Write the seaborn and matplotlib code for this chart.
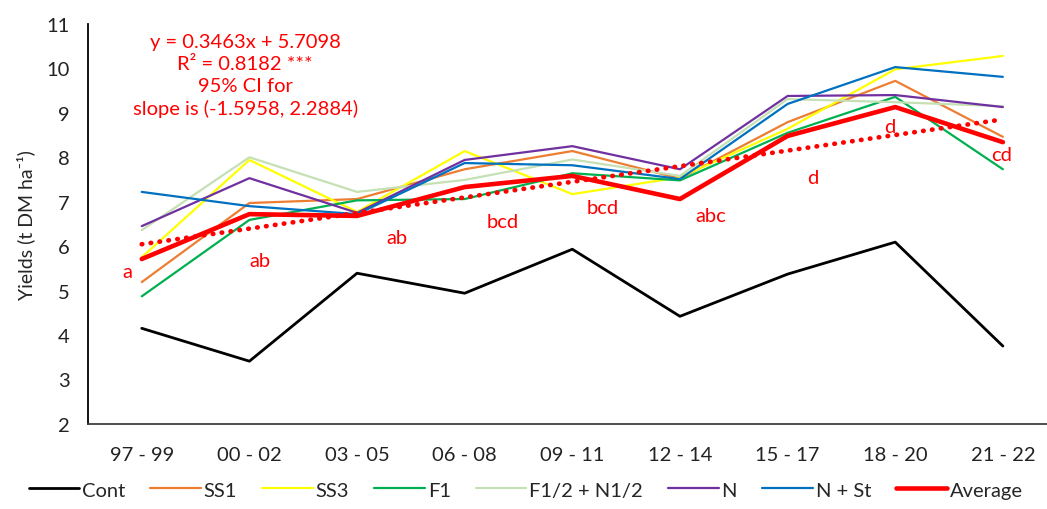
import numpy as np
import pandas as pd
import matplotlib
matplotlib.use("Agg")
import matplotlib.pyplot as plt
import seaborn as sns

# periods (x categories)
periods = ["97 - 99", "00 - 02", "03 - 05", "06 - 08", "09 - 11",
           "12 - 14", "15 - 17", "18 - 20", "21 - 22"]

# yields per treatment (t DM ha-1)
cont = [4.15, 3.41, 5.39, 4.94, 5.93, 4.42, 5.37, 6.09, 3.75]
ss1 = [5.19, 6.97, 7.06, 7.73, 8.14, 7.52, 8.79, 9.72, 8.46]
ss3 = [5.75, 7.94, 6.77, 8.14, 7.17, 7.55, 8.64, 9.98, 10.28]
f1 = [4.87, 6.59, 7.03, 7.06, 7.64, 7.48, 8.55, 9.36, 7.73]
f1_n1 = [6.36, 8.00, 7.22, 7.49, 7.95, 7.58, 9.31, 9.24, 9.15]
n = [6.45, 7.53, 6.75, 7.94, 8.25, 7.73, 9.38, 9.40, 9.13]
n_st = [7.22, 6.90, 6.72, 7.87, 7.82, 7.51, 9.20, 10.03, 9.81]
average = [5.71, 6.72, 6.68, 7.33, 7.58, 7.06, 8.48, 9.13, 8.34]

# letters of the significance groups for the average
letters = ["a", "ab", "ab", "bcd", "bcd", "abc", "d", "d", "cd"]

series = {
    "Cont": cont, "SS1": ss1, "SS3": ss3, "F1": f1,
    "F1/2 + N1/2": f1_n1, "N": n, "N + St": n_st, "Average": average,
}
colors = {
    "Cont": "#000000", "SS1": "#ED7D31", "SS3": "#FFFF00", "F1": "#00B050",
    "F1/2 + N1/2": "#C5E0B4", "N": "#7030A0", "N + St": "#0070C0",
    "Average": "#FF0000",
}

sns.set_style("white")
plt.rcParams["font.family"] = ["Lato", "DejaVu Sans"]

fig = plt.figure(figsize=(10.47, 5.10), dpi=100)
ax = fig.add_axes([0.084, 0.167, 0.916, 0.784])

xpos = np.arange(len(periods))
for name, vals in series.items():
    lw = 3.3 if name == "Average" else (2.0 if name == "Cont" else 1.6)
    sns.lineplot(x=xpos, y=vals, color=colors[name], linewidth=lw,
                 label=name, ax=ax, zorder=5 if name == "Average" else 3)

# linear trend of the average (dotted)
sns.regplot(x=xpos, y=average, scatter=False, ci=None, truncate=True, ax=ax,
            line_kws=dict(color="#FF0000", linewidth=3.4,
                          linestyle=(0, (0.1, 1.8)), dash_capstyle="round",
                          zorder=4))

# letters
letter_pos = [(-0.13, 5.44), (0.1, 5.67), (0.37, 6.2), (0.35, 6.56),
              (0.28, 6.88), (0.29, 6.68), (0.23, 7.55), (-0.05, 8.7),
              (-0.01, 8.07)]
for i, (lab, (dx, yy)) in enumerate(zip(letters, letter_pos)):
    ax.text(i + dx, yy, lab, color="#FF0000", fontsize=14.5,
            ha="center", va="center")

ax.text(0.96, 10.8,
        "y = 0.3463x + 5.7098\nR² = 0.8182 ***\n95% CI for\nslope is (-1.5958, 2.2884)",
        color="#FF0000", fontsize=14.5, ha="center", va="top",
        linespacing=1.35)

ax.set_xlim(-0.5, 8.41)
ax.set_ylim(2, 11)
ax.set_yticks(range(2, 12))
ax.set_xticks(xpos)
ax.set_xticklabels(periods)
ax.tick_params(axis="both", length=0, labelsize=14.5, colors="#222222")
ax.tick_params(axis="x", pad=16)
ax.tick_params(axis="y", pad=13)
ax.set_xlabel("")
ax.set_ylabel("Yields (t DM ha⁻¹)", fontsize=14, labelpad=8)

for side in ["top", "right"]:
    ax.spines[side].set_visible(False)
ax.spines["left"].set_color("#000000")
ax.spines["left"].set_linewidth(1.3)
ax.spines["bottom"].set_color("#404040")
ax.spines["bottom"].set_linewidth(1.3)

handles, labels = ax.get_legend_handles_labels()
ax.legend_.remove()
fig.legend(handles, labels, loc="lower center", bbox_to_anchor=(0.502, -0.015),
           ncol=8, frameon=False, fontsize=14.5, handlelength=2.5,
           handletextpad=0.15, columnspacing=1.25)

fig.savefig("out.png", dpi=100)
